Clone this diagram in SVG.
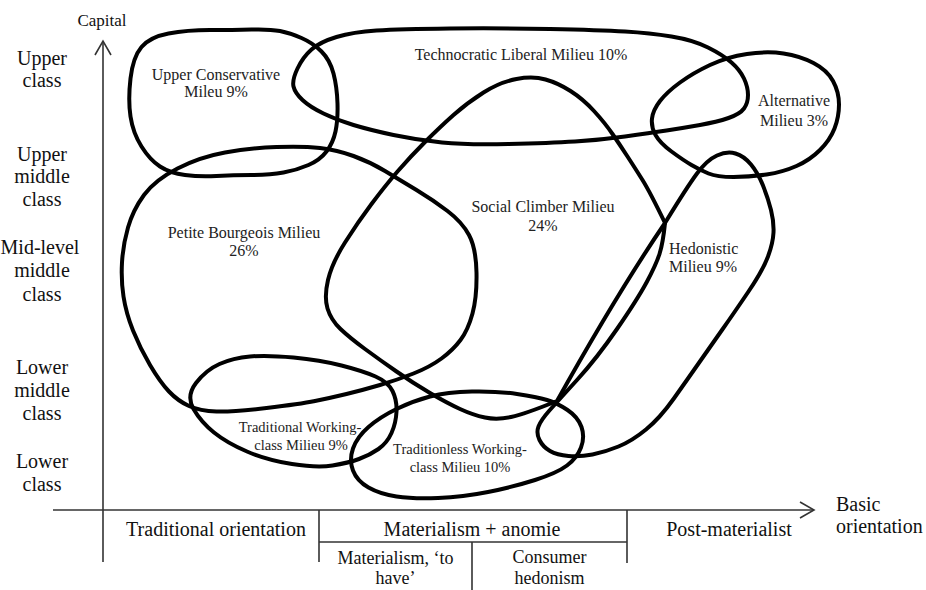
<svg xmlns="http://www.w3.org/2000/svg" width="926" height="590" viewBox="0 0 926 590" font-family="'Liberation Serif', 'Times New Roman', 'DejaVu Serif', serif">
<defs>
<marker id="arr" markerUnits="userSpaceOnUse" markerWidth="18" markerHeight="20" viewBox="-2 -2 18 20" refX="14" refY="8" orient="auto">
<path d="M0,0 L14,8 L0,16" fill="none" stroke="#333" stroke-width="1.6"/>
</marker>
</defs>
<style>
.loop{fill:none;stroke:#000;stroke-width:4;stroke-linejoin:round}
.ax{stroke:#333;stroke-width:1.6;fill:none}
text{font-family:'Liberation Serif','Times New Roman','DejaVu Serif',serif;fill:#111}
.axl{font-size:20px;text-anchor:middle}
.axs{font-size:20px;text-anchor:start}
.nl{font-size:16px;text-anchor:middle;fill:#222}
.nls{font-size:16px;text-anchor:start;fill:#222}
.ns{font-size:14.5px;text-anchor:middle;fill:#222}
.sub{font-size:18px;text-anchor:middle}
.cap{font-size:17px;text-anchor:middle}
</style>
<rect width="926" height="590" fill="#fff"/>

<g id="axes">
<line class="ax" x1="103" y1="562" x2="103" y2="41" marker-end="url(#arr)"/>
<line class="ax" x1="53" y1="510" x2="814" y2="510" marker-end="url(#arr)"/>
<line class="ax" x1="319" y1="510" x2="319" y2="562"/>
<line class="ax" x1="627" y1="510" x2="627" y2="563"/>
<line class="ax" x1="319" y1="542" x2="627" y2="542"/>
<line class="ax" x1="472" y1="542" x2="472" y2="590"/>
</g>

<g id="axis-labels">
<text class="cap" x="102" y="26">Capital</text>
<text class="axl" x="42" y="65">Upper</text>
<text class="axl" x="42" y="87">class</text>
<text class="axl" x="42" y="161">Upper</text>
<text class="axl" x="42" y="183">middle</text>
<text class="axl" x="42" y="206">class</text>
<text class="axl" x="40" y="254">Mid-level</text>
<text class="axl" x="42" y="277">middle</text>
<text class="axl" x="42" y="301">class</text>
<text class="axl" x="42" y="374">Lower</text>
<text class="axl" x="42" y="397">middle</text>
<text class="axl" x="42" y="420">class</text>
<text class="axl" x="42" y="468">Lower</text>
<text class="axl" x="42" y="491">class</text>
<text class="axl" x="216" y="536">Traditional orientation</text>
<text class="axl" x="472" y="536">Materialism + anomie</text>
<text class="axl" x="729" y="536">Post-materialist</text>
<text class="axs" x="836" y="511">Basic</text>
<text class="axs" x="836" y="533">orientation</text>
<text class="sub" x="395.5" y="564">Materialism, ‘to</text>
<text class="sub" x="395.5" y="584">have’</text>
<text class="sub" x="549.5" y="563">Consumer</text>
<text class="sub" x="549.5" y="584">hedonism</text>
</g>

<g id="upper-conservative">
<path class="loop" d="M210,30 Q233,30 251.5,29.5 Q270,29 280,31 Q290,33 301.5,38 Q313,43 321.5,51.5 Q330,60 333.5,73.5 Q337,87 337.5,103.5 Q338,120 335.5,131.5 Q333,143 326.5,151.5 Q320,160 308.5,165 Q297,170 283.5,172.5 Q270,175 251.5,175 Q233,175 216.5,176 Q200,177 185,175 Q170,173 160,166.5 Q150,160 141.5,146.5 Q133,133 130.5,116.5 Q128,100 130.5,78.5 Q133,57 141.5,47 Q150,37 168.5,33.5 Q187,30 210,30 Z"/>
<text class="nl" x="216" y="80">Upper Conservative</text>
<text class="nl" x="216" y="97">Mileu 9%</text>
</g>

<g id="technocratic-liberal">
<path class="loop" d="M297.5,68.5 Q303,57 311.5,49.5 Q320,42 336.5,37 Q353,32 376.5,30.5 Q400,29 450,28.5 Q500,28 550,29 Q600,30 625,31.5 Q650,33 671.5,36.5 Q693,40 708,47.5 Q723,55 731.5,62.5 Q740,70 744,78.5 Q748,87 748,95 Q748,103 744,108.5 Q740,114 728.5,118 Q717,122 700,125 Q683,128 666.5,130.5 Q650,133 625,136.5 Q600,140 575,141.5 Q550,143 508.5,144 Q467,145 442,142.5 Q417,140 393.5,135 Q370,130 353.5,125 Q337,120 323.5,113.5 Q310,107 302.5,100 Q295,93 293.5,86.5 Q292,80 297.5,68.5 Z"/>
<text class="nl" x="521" y="60">Technocratic Liberal Milieu 10%</text>
</g>

<g id="alternative">
<path class="loop" d="M747,54 Q767,51 783.5,53.5 Q800,56 813.5,63 Q827,70 833,81 Q839,92 839,104.5 Q839,117 834.5,128.5 Q830,140 820,150 Q810,160 796.5,166 Q783,172 766.5,174.5 Q750,177 733.5,177 Q717,177 708.5,173.5 Q700,170 691.5,165 Q683,160 671.5,151.5 Q660,143 655.5,135 Q651,127 652,118.5 Q653,110 660,101 Q667,92 680,82.5 Q693,73 710,65 Q727,57 747,54 Z"/>
<text class="nl" x="794" y="106">Alternative</text>
<text class="nl" x="794" y="126">Milieu 3%</text>
</g>

<g id="petite-bourgeois">
<path class="loop" d="M225,152.5 Q250,148 276.5,147 Q303,146 320,148 Q337,150 353.5,156 Q370,162 385,171 Q400,180 416.5,190 Q433,200 447.5,211 Q462,222 469,235 Q476,248 476.5,272.5 Q477,297 472.5,313.5 Q468,330 460.5,340 Q453,350 441.5,358.5 Q430,367 413.5,373.5 Q397,380 380,385 Q363,390 346.5,394 Q330,398 315,401 Q300,404 266.5,408 Q233,412 216.5,411.5 Q200,411 189,406 Q178,401 169,391.5 Q160,382 150,365 Q140,348 133,330.5 Q126,313 123.5,296.5 Q121,280 122,262.5 Q123,245 128,227.5 Q133,210 144,195 Q155,180 177.5,168.5 Q200,157 225,152.5 Z"/>
<text class="nl" x="244" y="238">Petite Bourgeois Milieu</text>
<text class="nl" x="244" y="256">26%</text>
</g>

<g id="social-climber">
<path class="loop" d="M665,223 Q618,292 557,401 Q525,414 511,417 Q497,420 485,417.5 Q473,415 460,409 Q447,403 430,393 Q413,383 396.5,371.5 Q380,360 365,349 Q350,338 340.5,329 Q331,320 327.5,308.5 Q324,297 328,280 Q332,263 345,242.5 Q358,222 371.5,204 Q385,186 397.5,171.5 Q410,157 425,142 Q440,127 453.5,115 Q467,103 483.5,92.5 Q500,82 516.5,79 Q533,76 545.5,79.5 Q558,83 570.5,91 Q583,99 594,111 Q605,123 612.5,134 Q620,145 627.5,156.5 Q635,168 642.5,180 Q650,192 665,223 Z"/>
<text class="nl" x="543" y="212">Social Climber Milieu</text>
<text class="nl" x="543" y="231">24%</text>
</g>

<g id="hedonistic">
<path class="loop" d="M665,223 Q687,187 697,173.5 Q707,160 717,155.5 Q727,151 735.5,153.5 Q744,156 751,164.5 Q758,173 763,185.5 Q768,198 771,210 Q774,222 773.5,232.5 Q773,243 768,256.5 Q763,270 748.5,291.5 Q734,313 722,330 Q710,347 698.5,363.5 Q687,380 673.5,399 Q660,418 646,429.5 Q632,441 618.5,446.5 Q605,452 592.5,454.5 Q580,457 568.5,456 Q557,455 550,451 Q543,447 539.5,440 Q536,433 538.5,426.5 Q541,420 549,411 Q557,402 577,380 Q597,358 617,329 Q637,300 646.5,282.5 Q656,265 659.5,254 Q663,243 665,223 Z"/>
<text class="nls" x="669" y="254">Hedonistic</text>
<text class="nls" x="669" y="272">Milieu 9%</text>
</g>

<g id="traditional-working-class">
<path class="loop" d="M196,383 Q206,370 219.5,364 Q233,358 250,356.5 Q267,355 293.5,357.5 Q320,360 341.5,365.5 Q363,371 375.5,376.5 Q388,382 392.5,391 Q397,400 396.5,411.5 Q396,423 391.5,433 Q387,443 378.5,449 Q370,455 359,459 Q348,463 332.5,465.5 Q317,468 292,464 Q267,460 247,451.5 Q227,443 214,432.5 Q201,422 193.5,409 Q186,396 196,383 Z"/>
<text class="ns" x="300" y="432">Traditional Working-</text>
<text class="ns" x="301" y="450">class Milieu 9%</text>
</g>

<g id="traditionless-working-class">
<path class="loop" d="M547,400 Q537,397 517,394 Q497,391 472,391.5 Q447,392 430,396.5 Q413,401 396.5,409 Q380,417 368.5,427 Q357,437 353,448.5 Q349,460 353,470.5 Q357,481 368.5,487.5 Q380,494 396.5,496.5 Q413,499 438,498 Q463,497 488,492 Q513,487 535,480 Q557,473 567,465.5 Q577,458 581,447.5 Q585,437 581.5,427 Q578,417 567.5,410 Q557,403 547,400 Z"/>
<text class="ns" x="460" y="454">Traditionless Working-</text>
<text class="ns" x="460" y="472">class Milieu 10%</text>
</g>

<g id="connectors"/>
</svg>
